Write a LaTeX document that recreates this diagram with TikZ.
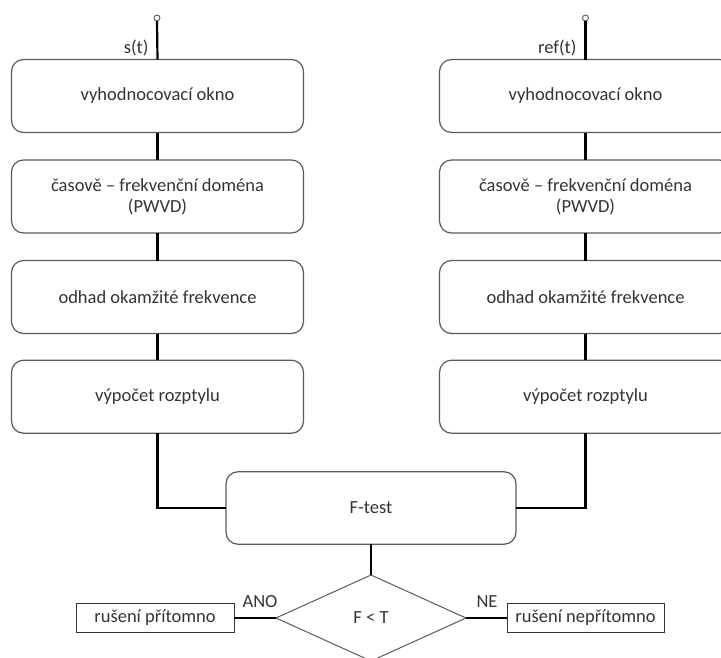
\documentclass[tikz,border=0pt]{standalone}
\usepackage{fontspec}
\setmainfont{Carlito}
\usetikzlibrary{shapes.geometric}
\definecolor{edgegray}{HTML}{5A5A5A}
\definecolor{textgray}{HTML}{333333}
\begin{document}
\begin{tikzpicture}[x=1pt,y=-1pt,
  every node/.style={font=\fontsize{18.5}{21}\selectfont, text=textgray},
  stage/.style={draw=edgegray, line width=1.2pt, rounded corners=12pt,
    rectangle, minimum width=292pt, minimum height=73pt, inner sep=0pt,
    outer sep=0pt, align=center},
  result/.style={draw=black!80, line width=1pt, rectangle, minimum height=29pt,
    inner sep=0pt, outer sep=0pt},
  decision/.style={draw=edgegray, line width=1pt, diamond, minimum width=190pt,
    minimum height=86pt, inner sep=0pt, outer sep=0pt},
  terminal/.style={draw=edgegray, line width=0.9pt, circle, minimum size=6pt,
    inner sep=0pt, outer sep=0pt},
  link/.style={draw=black, line width=2.2pt}]
\useasboundingbox (0,0) rectangle (721,657);

% left branch: measured signal
\node[terminal] (ls) at (157,18) {};
\node[stage] (l1) at (157.5,96) {vyhodnocovací okno};
\node[stage] (l2) at (157.5,196.5) {časově – frekvenční doména\\(PWVD)};
\node[stage] (l3) at (157.5,297) {odhad okamžité frekvence};
\node[stage] (l4) at (157.5,396.7) {výpočet rozptylu};
\node[anchor=east] (lsl) at (152,48) {s(t)};

% right branch: reference signal
\node[terminal] (rs) at (585.5,18) {};
\node[stage] (r1) at (585.5,96) {vyhodnocovací okno};
\node[stage] (r2) at (585.5,196.5) {časově – frekvenční doména\\(PWVD)};
\node[stage] (r3) at (585.5,297) {odhad okamžité frekvence};
\node[stage] (r4) at (585.5,396.7) {výpočet rozptylu};
\node[anchor=east] (rsl) at (580,48) {ref(t)};

% comparison and decision
\node[stage, minimum width=290pt, minimum height=72.5pt] (ft) at (371,508) {F-test};
\node[decision] (dec) at (371,618) {F < T};
\node[result, minimum width=158pt] (yes) at (155,618) {rušení přítomno};
\node[result, minimum width=157pt] (no) at (585.5,618) {rušení nepřítomno};
\node (yesl) at (260,602) {ANO};
\node (nol) at (487,602) {NE};

% connectors
\draw[link] (ls.south) -- (l1.north);
\draw[link] (l1.south) -- (l2.north);
\draw[link] (l2.south) -- (l3.north);
\draw[link] (l3.south) -- (l4.north);
\draw[link] (rs.south) -- (r1.north);
\draw[link] (r1.south) -- (r2.north);
\draw[link] (r2.south) -- (r3.north);
\draw[link] (r3.south) -- (r4.north);
\draw[link] (l4.south) |- (ft.west);
\draw[link] (r4.south) |- (ft.east);
\draw[link] (ft.south) -- (dec.north);
\draw[link] (dec.west) -- (yes.east);
\draw[link] (dec.east) -- (no.west);
\end{tikzpicture}
\end{document}
